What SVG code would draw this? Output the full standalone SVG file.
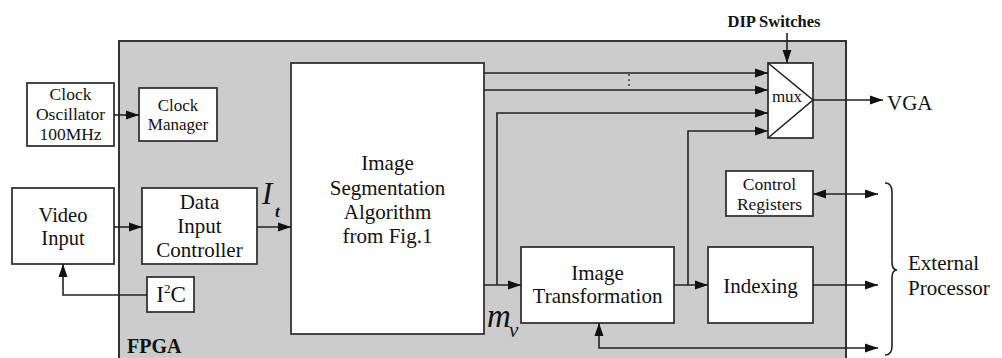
<svg xmlns="http://www.w3.org/2000/svg" width="1002" height="358" viewBox="0 0 1002 358">
<defs>
<marker id="ah" markerUnits="userSpaceOnUse" markerWidth="14" markerHeight="10" refX="13" refY="5" orient="auto-start-reverse">
<path d="M0,0.5 L13,5 L0,9.5 Z" fill="#111"/>
</marker>
<style>
.box{fill:#fff;stroke:#333;stroke-width:1.8}
.fpga{fill:#cccccc;stroke:#333;stroke-width:2}
.ln{fill:none;stroke:#222;stroke-width:1.6}
.t{font-family:"Liberation Serif","Times New Roman",serif;fill:#111;text-anchor:middle}
.l{font-family:"Liberation Serif","Times New Roman",serif;fill:#111}
.it{font-family:"Liberation Serif","Times New Roman",serif;font-style:italic;fill:#111}
</style>
</defs>
<rect width="1002" height="358" fill="#fff"/>
<g id="fpga">
<rect class="fpga" x="119" y="41" width="727" height="340"/>
<text class="l" x="127" y="353" font-size="20" font-weight="bold">FPGA</text>
</g>
<g id="clock-oscillator">
<rect class="box" x="27" y="83" width="87" height="63"/>
<text class="t" x="70.5" y="100" font-size="17.5">Clock</text>
<text class="t" x="70.5" y="120" font-size="17.5">Oscillator</text>
<text class="t" x="70.5" y="140" font-size="17.5">100MHz</text>
</g>
<g id="clock-manager">
<rect class="box" x="139" y="88" width="78" height="53"/>
<text class="t" x="178" y="111" font-size="17">Clock</text>
<text class="t" x="178" y="130" font-size="17">Manager</text>
</g>
<g id="video-input">
<rect class="box" x="12" y="188" width="102" height="76"/>
<text class="t" x="63" y="222" font-size="20.5">Video</text>
<text class="t" x="63" y="245" font-size="20.5">Input</text>
</g>
<g id="data-input-controller">
<rect class="box" x="142" y="188" width="115" height="76"/>
<text class="t" x="199.5" y="209" font-size="21">Data</text>
<text class="t" x="199.5" y="233" font-size="21">Input</text>
<text class="t" x="199.5" y="257" font-size="21">Controller</text>
</g>
<g id="i2c">
<rect class="box" x="147" y="277" width="47" height="35"/>
<text class="t" x="171" y="302" font-size="23">I<tspan font-size="13" dy="-9">2</tspan><tspan dy="9">C</tspan></text>
</g>
<g id="segmentation">
<rect class="box" x="291" y="63" width="193" height="271"/>
<text class="t" x="387.5" y="170" font-size="21">Image</text>
<text class="t" x="387.5" y="195" font-size="21">Segmentation</text>
<text class="t" x="387.5" y="219" font-size="21">Algorithm</text>
<text class="t" x="387.5" y="243" font-size="21">from Fig.1</text>
</g>
<g id="mux">
<rect class="box" x="768" y="63" width="45" height="75"/>
<path class="ln" d="M768,63 L813,100 L768,138"/>
<text class="t" x="787" y="102" font-size="17">mux</text>
</g>
<g id="control-registers">
<rect class="box" x="726" y="171" width="87" height="45"/>
<text class="t" x="769.5" y="190" font-size="17.5">Control</text>
<text class="t" x="769.5" y="210" font-size="17.5">Registers</text>
</g>
<g id="image-transformation">
<rect class="box" x="521" y="247" width="153" height="76"/>
<text class="t" x="597.5" y="280" font-size="21">Image</text>
<text class="t" x="597.5" y="303" font-size="21">Transformation</text>
</g>
<g id="indexing">
<rect class="box" x="708" y="247" width="105" height="76"/>
<text class="t" x="760.5" y="293" font-size="21">Indexing</text>
</g>
<g id="labels">
<text class="t" x="774" y="27" font-size="16.5" font-weight="bold">DIP Switches</text>
<text class="l" x="887" y="110" font-size="21">VGA</text>
<text class="l" x="908" y="270" font-size="21">External</text>
<text class="l" x="908" y="295" font-size="21">Processor</text>
<text class="it" x="262" y="204" font-size="31">I</text>
<text class="it" x="275" y="217" font-size="17" font-weight="bold">t</text>
<text class="it" x="487" y="327" font-size="33">m</text>
<text class="it" x="509" y="337" font-size="21">v</text>
</g>
<g id="connectors">
<line class="ln" x1="114" y1="115" x2="139" y2="115" marker-end="url(#ah)"/>
<line class="ln" x1="114" y1="227" x2="142" y2="227" marker-end="url(#ah)"/>
<line class="ln" x1="257" y1="227" x2="291" y2="227" marker-end="url(#ah)"/>
<polyline class="ln" points="147,295 63,295 63,264" marker-end="url(#ah)"/>
<line class="ln" x1="484" y1="73" x2="768" y2="73" marker-end="url(#ah)"/>
<line class="ln" x1="484" y1="90" x2="768" y2="90" marker-end="url(#ah)"/>
<line class="ln" x1="484" y1="285" x2="521" y2="285" marker-end="url(#ah)"/>
<polyline class="ln" points="497,285 497,113 768,113" marker-end="url(#ah)"/>
<line class="ln" x1="674" y1="285" x2="708" y2="285" marker-end="url(#ah)"/>
<polyline class="ln" points="688,285 688,131 768,131" marker-end="url(#ah)"/>
<line class="ln" x1="813" y1="285" x2="878" y2="285" marker-end="url(#ah)"/>
<line class="ln" x1="813" y1="194" x2="878" y2="194" marker-start="url(#ah)" marker-end="url(#ah)"/>
<polyline class="ln" points="599,323 599,348 878,348" marker-start="url(#ah)" marker-end="url(#ah)"/>
<line class="ln" x1="813" y1="100" x2="883" y2="100" marker-end="url(#ah)"/>
<line class="ln" x1="787" y1="33" x2="787" y2="63" marker-end="url(#ah)"/>
<g fill="#666">
<rect x="628" y="74" width="2" height="2"/>
<rect x="628" y="79" width="2" height="2"/>
<rect x="628" y="84" width="2" height="2"/>
</g>
<path class="ln" d="M885,183 Q892,183 892,192 L892,262 Q892,270 897,270 Q892,270 892,278 L892,346 Q892,355 885,355"/>
</g>
</svg>
